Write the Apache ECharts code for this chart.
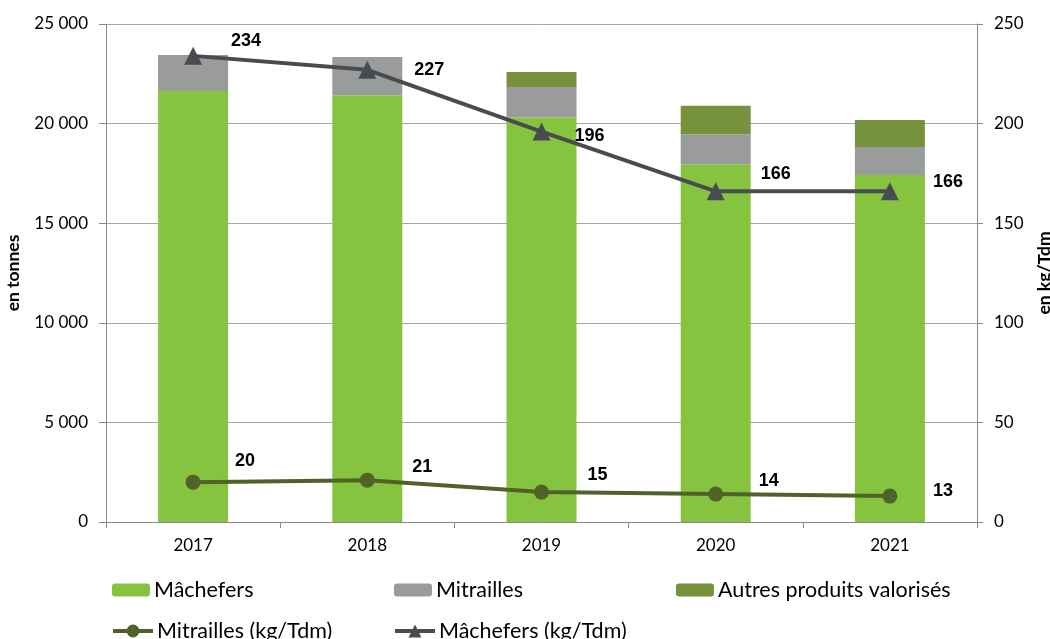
<!DOCTYPE html>
<html>
<head>
<meta charset="utf-8">
<script src="https://cdn.jsdelivr.net/npm/echarts@6/dist/echarts.min.js"></script>
<style>
html,body{margin:0;padding:0;background:#fff;}
#chart{width:1050px;height:639px;}
</style>
</head>
<body>
<div id="chart"></div>
<script>
const years = ['2017', '2018', '2019', '2020', '2021'];
const machefersT = [21640, 21420, 20300, 17960, 17420];
const mitraillesT = [1800, 1920, 1540, 1500, 1410];
const autresT = [0, 0, 750, 1440, 1350];
const machefersKg = [234, 227, 196, 166, 166];
const mitraillesKg = [20, 21, 15, 14, 13];
const leftTicks = [0, 5000, 10000, 15000, 20000, 25000];
const rightTicks = [0, 50, 100, 150, 200, 250];

// label offsets (styling only)
const machOff = [[53, -15], [62, 0], [48, 4], [60, -17], [58, -9]];
const mitOff = [[52, -21], [55, -13], [56, -17], [53, -13], [53, -5]];

const chart = echarts.init(document.getElementById('chart'));
const fmt = v => String(v).replace(/\B(?=(\d{3})+(?!\d))/g, ' ');
const axisFont = {fontFamily: 'Lato', fontSize: 17, color: '#000'};
const labelStyle = {show: true, position: 'inside', align: 'center', verticalAlign: 'middle',
  fontFamily: 'Liberation Sans', fontWeight: 'bold', fontSize: 18, color: '#000'};
const nameStyle = {fontFamily: 'Lato', fontWeight: 'bold', fontSize: 17.5, color: '#000'};

const lgText = {fontFamily: 'Lato', fontSize: 21.5, color: '#000', padding: [0, 0, 0, -1]};
const lgBar = {itemWidth: 38, itemHeight: 13, itemGap: 0, padding: 0, textStyle: lgText};
const lgLine = {itemWidth: 40, itemHeight: 16, itemGap: 0, padding: 0, textStyle: lgText,
  lineStyle: {width: 4}};

chart.setOption({
  animation: false,
  backgroundColor: '#fff',
  grid: {left: 106, right: 73, top: 24, bottom: 117, containLabel: false, outerBoundsMode: 'none'},
  xAxis: {
    type: 'category', data: years, boundaryGap: true,
    axisLine: {lineStyle: {color: '#888', width: 1}},
    axisTick: {show: true, length: 6, lineStyle: {color: '#888'}},
    axisLabel: Object.assign({margin: 15}, axisFont)
  },
  yAxis: [{
    type: 'value', min: leftTicks[0], max: leftTicks[leftTicks.length - 1], interval: leftTicks[1] - leftTicks[0],
    name: 'en tonnes', nameLocation: 'middle', nameGap: 84, nameRotate: 90,
    nameTextStyle: nameStyle,
    axisLine: {show: true, lineStyle: {color: '#888'}},
    axisTick: {show: true, length: 7, lineStyle: {color: '#888'}},
    splitLine: {show: true, lineStyle: {color: '#a6a6a6', width: 1}},
    axisLabel: Object.assign({margin: 18, formatter: fmt}, axisFont)
  }, {
    type: 'value', min: rightTicks[0], max: rightTicks[rightTicks.length - 1], interval: rightTicks[1] - rightTicks[0],
    name: 'en kg/Tdm', nameLocation: 'middle', nameGap: 58, nameRotate: 90,
    nameTextStyle: nameStyle,
    axisLine: {show: true, lineStyle: {color: '#888'}},
    axisTick: {show: true, length: 6, lineStyle: {color: '#888'}},
    splitLine: {show: false},
    axisLabel: Object.assign({margin: 17}, axisFont)
  }],
  legend: [
    Object.assign({left: 112, top: 579, data: ['Mâchefers']}, lgBar),
    Object.assign({left: 394, top: 579, data: ['Mitrailles']}, lgBar),
    Object.assign({left: 676, top: 579, data: ['Autres produits valorisés']}, lgBar),
    Object.assign({left: 111, top: 620, data: ['Mitrailles (kg/Tdm)']}, lgLine),
    Object.assign({left: 393, top: 620, data: ['Mâchefers (kg/Tdm)']}, lgLine)
  ],
  series: [
    {name: 'Mâchefers', type: 'bar', stack: 't', barWidth: 70, data: machefersT,
      itemStyle: {color: '#86c440'}},
    {name: 'Mitrailles', type: 'bar', stack: 't', barWidth: 70, data: mitraillesT,
      itemStyle: {color: '#9a9c9c'}},
    {name: 'Autres produits valorisés', type: 'bar', stack: 't', barWidth: 70, data: autresT,
      itemStyle: {color: '#76923c'}},
    {name: 'Mitrailles (kg/Tdm)', type: 'line', yAxisIndex: 1, z: 5,
      data: mitraillesKg.map((v, i) => ({value: v, label: {offset: mitOff[i]}})),
      symbol: 'circle', symbolSize: 15,
      lineStyle: {color: '#4f6228', width: 4}, itemStyle: {color: '#4f6228'},
      label: labelStyle},
    {name: 'Mâchefers (kg/Tdm)', type: 'line', yAxisIndex: 1, z: 5,
      data: machefersKg.map((v, i) => ({value: v, label: {offset: machOff[i]}})),
      symbol: 'triangle', symbolSize: 18,
      lineStyle: {color: '#484c51', width: 4}, itemStyle: {color: '#484c51'},
      label: labelStyle}
  ]
});
</script>
</body>
</html>
